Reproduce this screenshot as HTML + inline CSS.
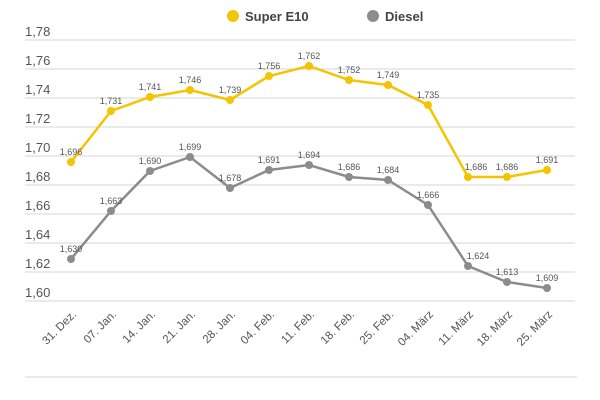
<!DOCTYPE html>
<html><head><meta charset="utf-8"><style>body{margin:0;background:#fff}svg{display:block;font-family:"Liberation Sans",sans-serif}</style></head><body>
<svg width="600" height="400" viewBox="0 0 600 400">
<circle cx="233" cy="16" r="6" fill="#f5c400"/><text x="245" y="21" font-size="13" font-weight="bold" fill="#444">Super E10</text>
<circle cx="373" cy="16" r="6" fill="#8c8c8c"/><text x="385" y="21" font-size="13" font-weight="bold" fill="#444">Diesel</text>
<g stroke="#d6d6d6" stroke-width="1">
<line x1="25" x2="575" y1="40" y2="40"/><line x1="25" x2="575" y1="69" y2="69"/><line x1="25" x2="575" y1="98" y2="98"/><line x1="25" x2="575" y1="127" y2="127"/><line x1="25" x2="575" y1="156" y2="156"/><line x1="25" x2="575" y1="185" y2="185"/><line x1="25" x2="575" y1="214" y2="214"/><line x1="25" x2="575" y1="243" y2="243"/><line x1="25" x2="575" y1="272" y2="272"/><line x1="25" x2="575" y1="301" y2="301"/>
<line x1="25" x2="577" y1="377" y2="377"/>
</g>
<g font-size="13" fill="#555">
<text x="25" y="36">1,78</text><text x="25" y="65">1,76</text><text x="25" y="94">1,74</text><text x="25" y="123">1,72</text><text x="25" y="152">1,70</text><text x="25" y="181">1,68</text><text x="25" y="210">1,66</text><text x="25" y="239">1,64</text><text x="25" y="268">1,62</text><text x="25" y="297">1,60</text>
</g>
<polyline fill="none" stroke="#f5c400" stroke-width="2.5" points="71,162 111,111 150,97 190,90 230,100 269,76 309,66 349,80 388,85 428,105 468,177 507,177 547,170"/>
<polyline fill="none" stroke="#8c8c8c" stroke-width="2.5" points="71,259 111,211 150,171 190,157 230,188 269,170 309,165 349,177 388,180 428,205 468,266 507,282 547,288"/>
<g fill="#f5c400"><circle cx="71" cy="162" r="4"/><circle cx="111" cy="111" r="4"/><circle cx="150" cy="97" r="4"/><circle cx="190" cy="90" r="4"/><circle cx="230" cy="100" r="4"/><circle cx="269" cy="76" r="4"/><circle cx="309" cy="66" r="4"/><circle cx="349" cy="80" r="4"/><circle cx="388" cy="85" r="4"/><circle cx="428" cy="105" r="4"/><circle cx="468" cy="177" r="4"/><circle cx="507" cy="177" r="4"/><circle cx="547" cy="170" r="4"/></g>
<g fill="#8c8c8c"><circle cx="71" cy="259" r="4"/><circle cx="111" cy="211" r="4"/><circle cx="150" cy="171" r="4"/><circle cx="190" cy="157" r="4"/><circle cx="230" cy="188" r="4"/><circle cx="269" cy="170" r="4"/><circle cx="309" cy="165" r="4"/><circle cx="349" cy="177" r="4"/><circle cx="388" cy="180" r="4"/><circle cx="428" cy="205" r="4"/><circle cx="468" cy="266" r="4"/><circle cx="507" cy="282" r="4"/><circle cx="547" cy="288" r="4"/></g>
<g font-size="9" fill="#555" text-anchor="middle">
<text x="71" y="155">1,696</text><text x="111" y="104">1,731</text><text x="150" y="90">1,741</text><text x="190" y="83">1,746</text><text x="230" y="93">1,739</text><text x="269" y="69">1,756</text><text x="309" y="59">1,762</text><text x="349" y="73">1,752</text><text x="388" y="78">1,749</text><text x="428" y="98">1,735</text><text x="476" y="170">1,686</text><text x="507" y="170">1,686</text><text x="547" y="163">1,691</text>
<text x="71" y="252">1,630</text><text x="111" y="204">1,663</text><text x="150" y="164">1,690</text><text x="190" y="150">1,699</text><text x="230" y="181">1,678</text><text x="269" y="163">1,691</text><text x="309" y="158">1,694</text><text x="349" y="170">1,686</text><text x="388" y="173">1,684</text><text x="428" y="198">1,666</text><text x="478" y="259">1,624</text><text x="507" y="275">1,613</text><text x="547" y="281">1,609</text>
</g>
<g font-size="11.5" fill="#555" text-anchor="end">
<text transform="translate(77,315) rotate(-45)">31. Dez.</text><text transform="translate(117,315) rotate(-45)">07. Jan.</text><text transform="translate(156,315) rotate(-45)">14. Jan.</text><text transform="translate(196,315) rotate(-45)">21. Jan.</text><text transform="translate(236,315) rotate(-45)">28. Jan.</text><text transform="translate(275,315) rotate(-45)">04. Feb.</text><text transform="translate(315,315) rotate(-45)">11. Feb.</text><text transform="translate(355,315) rotate(-45)">18. Feb.</text><text transform="translate(394,315) rotate(-45)">25. Feb.</text><text transform="translate(434,315) rotate(-45)">04. März</text><text transform="translate(474,315) rotate(-45)">11. März</text><text transform="translate(513,315) rotate(-45)">18. März</text><text transform="translate(553,315) rotate(-45)">25. März</text>
</g>
</svg>
</body></html>
